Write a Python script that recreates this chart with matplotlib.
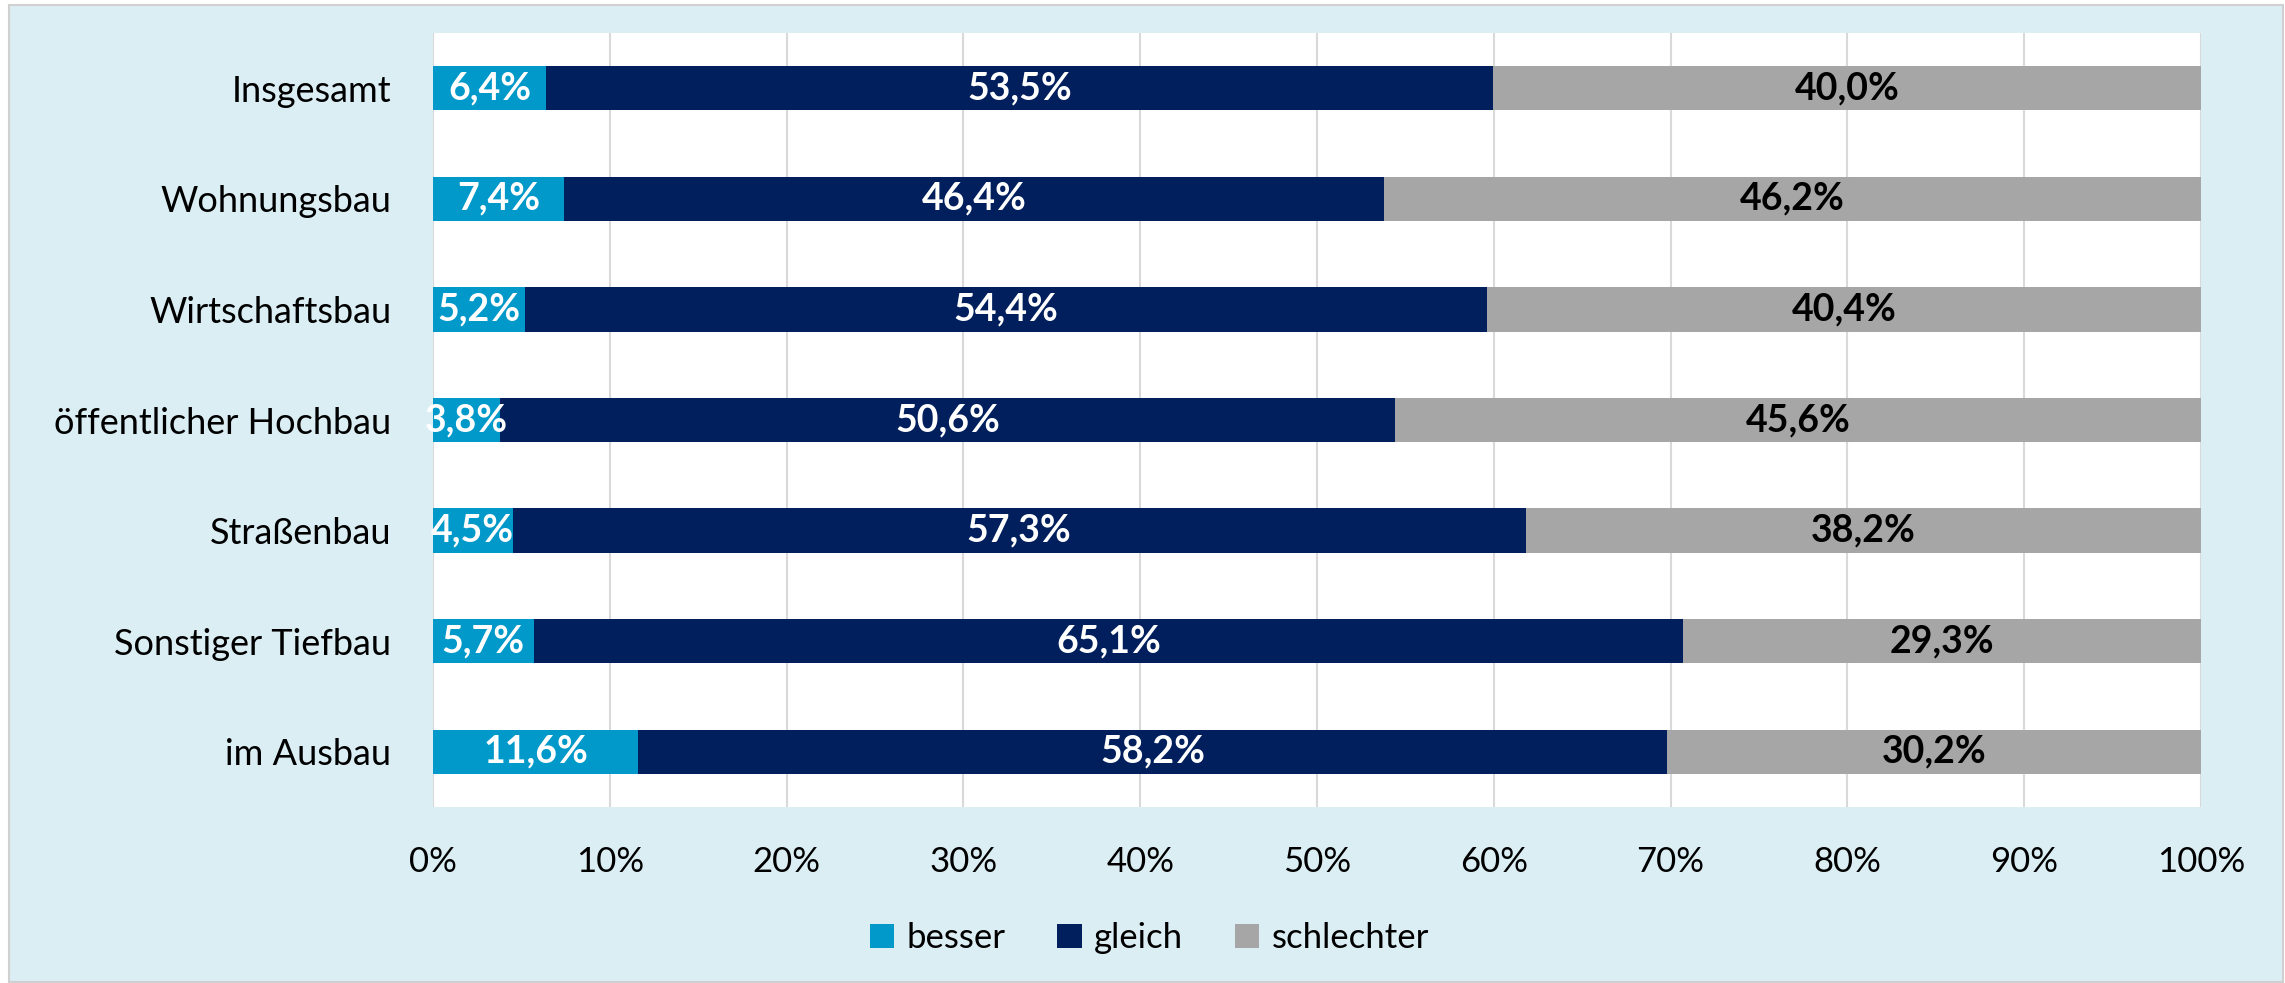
import matplotlib
matplotlib.use("Agg")
import matplotlib.pyplot as plt
import numpy as np
from matplotlib.patches import Rectangle

plt.rcParams['font.family'] = ['Lato', 'DejaVu Sans']

categories = ["Insgesamt", "Wohnungsbau", "Wirtschaftsbau", "öffentlicher Hochbau",
              "Straßenbau", "Sonstiger Tiefbau", "im Ausbau"]
besser = [6.4, 7.4, 5.2, 3.8, 4.5, 5.7, 11.6]
gleich = [53.5, 46.4, 54.4, 50.6, 57.3, 65.1, 58.2]
schlechter = [40.0, 46.2, 40.4, 45.6, 38.2, 29.3, 30.2]

series = [("besser", besser, "#0099C9", "white"),
          ("gleich", gleich, "#001F5C", "white"),
          ("schlechter", schlechter, "#A6A6A6", "black")]

W, H = 2285, 983
fig = plt.figure(figsize=(W / 100, H / 100), dpi=100, facecolor="white")
fig.patches.append(Rectangle((9 / W, 1 / H), (2283 - 9) / W, (978 - 1) / H,
                             transform=fig.transFigure, facecolor="#DBEEF4",
                             edgecolor="#D0D0D0", linewidth=1.5, zorder=-10))

ax = fig.add_axes([433 / W, (983 - 807) / H, (2201 - 433) / W, (807 - 33) / H])
ax.set_facecolor("white")

totals = np.array(besser) + np.array(gleich) + np.array(schlechter)
y = np.arange(len(categories))
left = np.zeros(len(categories))
for name, vals, color, tcolor in series:
    share = np.array(vals) / totals * 100
    ax.barh(y, share, left=left, height=0.4, color=color, label=name, zorder=3)
    for yi, l, s, v in zip(y, left, share, vals):
        ax.text(l + s / 2, yi, f"{v:.1f}%".replace(".", ","), ha="center", va="center",
                color=tcolor, fontsize=27, fontweight="bold", zorder=4)
    left += share

ax.set_xlim(0, 100)
ax.set_ylim(len(categories) - 0.5, -0.5)
ax.set_xticks(np.arange(0, 101, 10))
ax.set_xticklabels([f"{t}%" for t in range(0, 101, 10)])
ax.set_yticks(y)
ax.set_yticklabels(categories)
ax.tick_params(axis="both", length=0)
ax.tick_params(axis="y", pad=30, labelsize=26)
ax.tick_params(axis="x", pad=28, labelsize=25)
ax.grid(axis="x", color="#D9D9D9", linewidth=1.5, zorder=0)
for s in ax.spines.values():
    s.set_visible(False)
ax.axvline(0, color="#D9D9D9", linewidth=1.5, zorder=1)

fig.legend(loc="center", bbox_to_anchor=(0.503, (983 - 938) / H), ncol=3, frameon=False,
           fontsize=25, handlelength=0.7, handleheight=0.7, handletextpad=0.35,
           columnspacing=1.5)

fig.savefig("out.png", dpi=100, facecolor=fig.get_facecolor())
